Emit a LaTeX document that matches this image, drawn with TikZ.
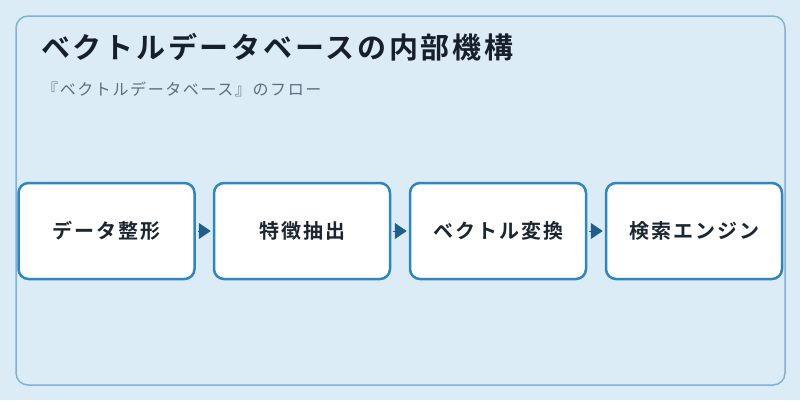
\documentclass[tikz,border=0pt]{standalone}
\usepackage{fontspec}
\newfontfamily\jp[LetterSpace=10]{Noto Sans CJK JP}
\newfontfamily\jpb[LetterSpace=10]{Noto Sans CJK JP Bold}
\newfontfamily\jpt[LetterSpace=9.5]{Noto Sans CJK JP Bold}
\usetikzlibrary{arrows.meta}
\definecolor{bg}{HTML}{DCECF7}
\definecolor{frame}{HTML}{7FB3D5}
\definecolor{boxline}{HTML}{2E86C1}
\definecolor{arrowc}{HTML}{1F5F8B}
\definecolor{titlec}{HTML}{17202A}
\definecolor{subc}{HTML}{5D6D7E}
\definecolor{labelc}{HTML}{1B2631}
\tikzset{
  stepbox/.style={draw=boxline, line width=2.5pt, fill=white, rounded corners=10pt,
    minimum width=176pt, minimum height=96pt, inner sep=0pt,
    font=\jpb\fontsize{20pt}{24pt}\selectfont, text=labelc},
  flow/.style={draw=arrowc, fill=arrowc, line width=1pt, -{Triangle[length=12pt,width=16pt]},
    shorten <=2pt, shorten >=2pt}
}
\begin{document}
\begin{tikzpicture}[x=1pt,y=-1pt]
\useasboundingbox (0,0) rectangle (800,400);
\fill[bg] (0,0) rectangle (800,400);
\draw[frame, line width=1.5pt, rounded corners=12pt] (16,16) rectangle (785,385);
\node[anchor=base west, inner sep=0pt, text=titlec, font=\jpt\fontsize{29pt}{32pt}\selectfont] (title) at (41,58.5) {ベクトルデータベースの内部機構};
\node[anchor=base west, inner sep=0pt, text=subc, font=\jp\fontsize{16pt}{20pt}\selectfont] (sub) at (42,95) {『ベクトルデータベース』のフロー};
\node[stepbox] (b1) at (106.5,231) {データ整形};
\node[stepbox] (b2) at (302,231) {特徴抽出};
\node[stepbox] (b3) at (498,231) {ベクトル変換};
\node[stepbox] (b4) at (694,231) {検索エンジン};
\draw[flow] (b1.east) -- (b2.west);
\draw[flow] (b2.east) -- (b3.west);
\draw[flow] (b3.east) -- (b4.west);
\end{tikzpicture}
\end{document}
